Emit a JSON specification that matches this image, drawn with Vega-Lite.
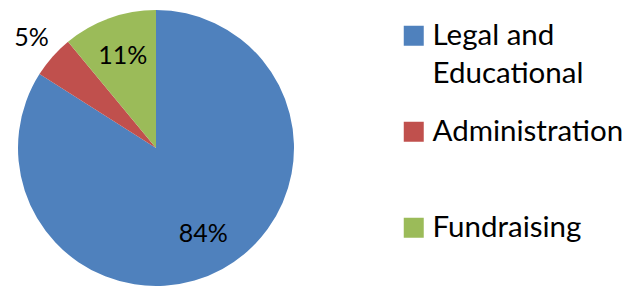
{
  "$schema": "https://vega.github.io/schema/vega-lite/v6.json",
  "width": 312,
  "height": 296,
  "padding": 0,
  "autosize": {"type": "pad"},
  "background": "white",
  "view": {"stroke": null},
  "data": {"values": [
    {"category": "Legal and Educational", "share": 0.84, "rank": 1},
    {"category": "Administration", "share": 0.05, "rank": 2},
    {"category": "Fundraising", "share": 0.11, "rank": 3}
  ]},
  "encoding": {
    "theta": {"field": "share", "type": "quantitative", "stack": true},
    "order": {"field": "rank", "type": "quantitative"}
  },
  "layer": [
    {
      "mark": {"type": "arc", "outerRadius": 138},
      "encoding": {
        "color": {
          "field": "category",
          "type": "nominal",
          "sort": ["Legal and Educational", "Administration", "Fundraising"],
          "scale": {
            "domain": ["Legal and Educational", "Administration", "Fundraising"],
            "range": ["#4F81BD", "#C0504D", "#9BBB59"]
          },
          "legend": {
            "title": null,
            "orient": "none",
            "legendX": 399,
            "legendY": 21,
            "padding": 0,
            "gridAlign": "all",
            "symbolType": "square",
            "symbolSize": 400,
            "symbolStrokeWidth": 0,
            "symbolOpacity": 1,
            "labelFont": "Lato",
            "labelFontSize": 29.5,
            "labelColor": "black",
            "labelOffset": 4,
            "labelLimit": 300,
            "rowPadding": 27,
            "labelExpr": "datum.label == 'Legal and Educational' ? ['Legal and', 'Educational'] : datum.label",
            "encoding": {"labels": {"lineHeight": {"value": 38}}}
          }
        }
      }
    },
    {
      "mark": {"type": "text", "font": "Lato", "fontSize": 25, "color": "black"},
      "encoding": {
        "radius": {"field": "share", "type": "quantitative", "scale": {"type": "linear", "domain": [0.05, 0.11], "range": [166, 98], "clamp": true, "zero": false}},
        "text": {"field": "share", "type": "quantitative", "format": ".0%"}
      }
    }
  ]
}
